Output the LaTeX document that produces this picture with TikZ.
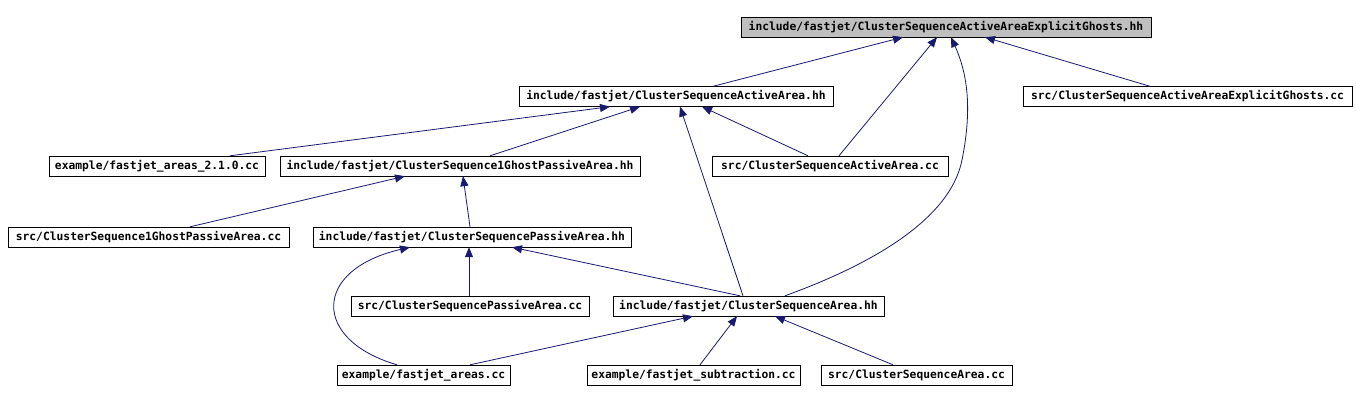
\documentclass[tikz,border=0pt]{standalone}
\usepackage{fontspec}
\usetikzlibrary{arrows.meta}
\newfontfamily\dotfont{DejaVu Sans Mono}
\definecolor{cEdge}{RGB}{25,25,112}
\definecolor{cHead}{RGB}{191,191,191}
\tikzset{
    box/.style={draw, rectangle, inner sep=0pt, minimum height=20pt, font=\dotfont\bfseries\fontsize{11.3}{12}\selectfont},
    dep/.style={draw=cEdge, line width=0.8pt, -{Triangle[length=10pt,width=8pt]}, fill=none},
}

\begin{document}
\begin{tikzpicture}[x=1pt, y=-1pt]
        \useasboundingbox (0,0) rectangle (1356,401);
        % header files and sources
        \node[box, fill=cHead, minimum width=410] (top) at (946,27) {include/fastjet/ClusterSequenceActiveAreaExplicitGhosts.hh};
        \node[box, minimum width=314] (actH) at (676,96.5) {include/fastjet/ClusterSequenceActiveArea.hh};
        \node[box, minimum width=329] (explCC) at (1187.5,96.5) {src/ClusterSequenceActiveAreaExplicitGhosts.cc};
        \node[box, minimum width=216] (ex210) at (157,166) {example/fastjet\_areas\_2.1.0.cc};
        \node[box, minimum width=360] (ghostH) at (460,166) {include/fastjet/ClusterSequence1GhostPassiveArea.hh};
        \node[box, minimum width=236] (actCC) at (830,166) {src/ClusterSequenceActiveArea.cc};
        \node[box, minimum width=281] (ghostCC) at (148.5,237) {src/ClusterSequence1GhostPassiveArea.cc};
        \node[box, minimum width=318] (passH) at (472,237) {include/fastjet/ClusterSequencePassiveArea.hh};
        \node[box, minimum width=238] (passCC) at (470,306) {src/ClusterSequencePassiveArea.cc};
        \node[box, minimum width=271] (areaH) at (748.5,306) {include/fastjet/ClusterSequenceArea.hh};
        \node[box, minimum width=173] (exAreas) at (423.5,375) {example/fastjet\_areas.cc};
        \node[box, minimum width=213] (exSub) at (693.5,375) {example/fastjet\_subtraction.cc};
        \node[box, minimum width=191] (areaCC) at (916.5,375) {src/ClusterSequenceArea.cc};
        % includes
        \draw[dep] ([xshift=37]actH.north) -- ([xshift=-43]top.south);
        \draw[dep] ([xshift=9]actCC.north) -- ([xshift=-9]top.south);
        \draw[dep] ([xshift=36.5]areaH.north) .. controls (870,265) and (950,220) .. (962,160) .. controls (972,110) and (968,75) .. ([xshift=5]top.south);
        \draw[dep] ([xshift=-37.5]explCC.north) -- ([xshift=39]top.south);
        \draw[dep] ([xshift=73]ex210.north) -- ([xshift=-66]actH.south);
        \draw[dep] ([xshift=30]ghostH.north) -- ([xshift=-36]actH.south);
        \draw[dep] ([xshift=-22]actCC.north) -- ([xshift=26]actH.south);
        \draw[dep] ([xshift=-5.5]areaH.north) -- ([xshift=4]actH.south);
        \draw[dep] ([xshift=41.5]ghostCC.north) -- ([xshift=-55]ghostH.south);
        \draw[dep] ([xshift=-2]passH.north) -- ([xshift=3]ghostH.south);
        \draw[dep] ([xshift=-1]passCC.north) -- ([xshift=-3]passH.south);
        \draw[dep] ([xshift=-8.5]areaH.north) -- ([xshift=40]passH.south);
        \draw[dep] ([xshift=-26.5]exAreas.north) .. controls (312,340) and (312,270) .. ([xshift=-62]passH.south);
        \draw[dep] ([xshift=46.5]exAreas.north) -- ([xshift=-55.5]areaH.south);
        \draw[dep] ([xshift=6.5]exSub.north) -- ([xshift=-11.5]areaH.south);
        \draw[dep] ([xshift=-23.5]areaCC.north) -- ([xshift=26.5]areaH.south);
\end{tikzpicture}
\end{document}
